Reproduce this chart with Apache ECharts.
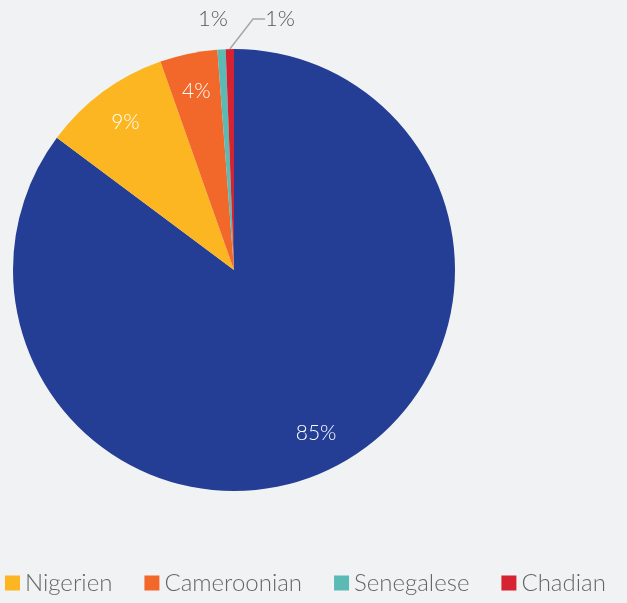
<!DOCTYPE html>
<html>
<head>
<meta charset="utf-8">
<script src="https://cdn.jsdelivr.net/npm/echarts@6/dist/echarts.min.js"></script>
<style>
  html, body { margin: 0; padding: 0; background: #f1f2f4; }
  #chart { width: 627px; height: 603px; }
</style>
</head>
<body>
<div id="chart"></div>
<script>
const names = ['Burkinabe', 'Nigerien', 'Cameroonian', 'Senegalese', 'Chadian']
const values = [85.2, 9.4, 4.2, 0.6, 0.6]
const labels = ['85%', '9%', '4%', '1%', '1%']
const colors = ['#233e94', '#fbb621', '#f2672a', '#5bbab3', '#d62331']
const legendNames = ['Nigerien', 'Cameroonian', 'Senegalese', 'Chadian']

const font = 'Lato, "Open Sans", sans-serif'
const R = 221

const chart = echarts.init(document.getElementById('chart'))

const mainData = names.map((n, i) => {
  const small = values[i] < 2
  return {
    name: n,
    value: values[i],
    itemStyle: { color: colors[i] },
    label: { show: small },
    labelLine: { show: small && i === 4 }
  }
})

// invisible ring that just carries the inside labels further out
const ringData = names.map((n, i) => ({
  name: n,
  value: values[i],
  label: { show: values[i] >= 2 }
}))

chart.setOption({
  backgroundColor: '#f1f2f4',
  animation: false,
  legend: {
    data: legendNames,
    left: 0,
    bottom: 3,
    itemWidth: 15,
    itemHeight: 15,
    itemGap: 32,
    icon: 'rect',
    textStyle: { fontFamily: font, fontSize: 24, color: '#666', fontWeight: 300 }
  },
  series: [
    {
      type: 'pie',
      center: [234, 270],
      radius: [0, R],
      startAngle: 90,
      clockwise: true,
      avoidLabelOverlap: false,
      data: mainData,
      label: {
        position: 'outside',
        formatter: p => labels[p.dataIndex],
        fontFamily: font,
        fontSize: 22,
        color: '#555',
        fontWeight: 300
      },
      labelLine: { length: 14, length2: 12, lineStyle: { color: '#a6a6a6', width: 1.5 } },
      labelLayout: p => {
        if (p.dataIndex === 3) return { x: 213, y: 19, align: 'center', verticalAlign: 'middle' }
        if (p.dataIndex === 4) return { x: 265, y: 19, align: 'left', verticalAlign: 'middle' }
      }
    },
    {
      type: 'pie',
      center: [234, 270],
      radius: [R * 0.63, R],
      startAngle: 90,
      clockwise: true,
      silent: true,
      itemStyle: { color: 'transparent' },
      data: ringData,
      label: {
        position: 'inside',
        formatter: p => labels[p.dataIndex],
        fontFamily: font,
        fontSize: 21,
        color: '#fff',
        fontWeight: 300
      },
      labelLine: { show: false }
    }
  ]
})
</script>
</body>
</html>
